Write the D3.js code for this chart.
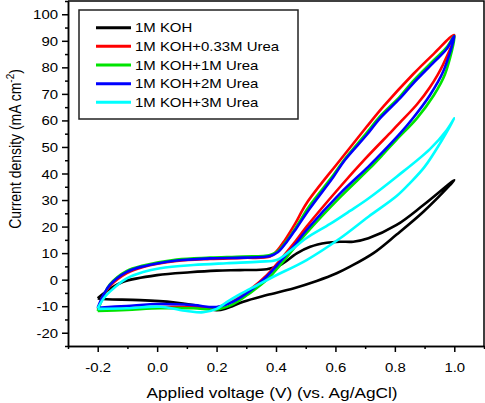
<!DOCTYPE html>
<html><head><meta charset="utf-8">
<script src="https://cdn.jsdelivr.net/npm/d3@7"></script>
<style>
body{margin:0;background:#fff}
svg{display:block}
text{font-family:"Liberation Sans",Arial,sans-serif;fill:#000}
</style>
</head><body>
<svg id="chart" width="485" height="403"></svg>
<script>
// ---------- data ----------
const seriesNames = ["1M KOH","1M KOH+0.33M Urea","1M KOH+1M Urea","1M KOH+2M Urea","1M KOH+3M Urea"];
const seriesColors = ["#000000","#ff0000","#00e400","#0000ff","#00ffff"];

// [voltage (V), current density (mA cm-2)], forward scan then reverse scan
const koh = [[-0.2,-7.0],[-0.159,-3.5],[-0.114,-0.8],[0.0,1.7],[0.111,2.8],[0.2,3.4],[0.279,3.6],[0.369,3.9],[0.414,5.5],[0.47,9.9],[0.515,12.4],[0.571,13.9],[0.616,14.3],[0.66,14.3],[0.711,15.6],[0.806,20.6],[0.896,28.1],[1.0,37.5],
  [0.986,35.7],[0.896,25.6],[0.806,17.0],[0.728,10.0],[0.649,4.9],[0.604,2.4],[0.537,-0.5],[0.458,-3.3],[0.369,-5.8],[0.29,-8.3],[0.234,-10.8],[0.2,-11.5],[0.122,-9.6],[0.054,-8.5],[-0.058,-7.7],[-0.17,-7.4],[-0.2,-7.1]];
const urea033 = [[-0.2,-11.0],[-0.179,-5.8],[-0.159,-2.4],[-0.102,2.5],[-0.047,4.8],[0.066,7.0],[0.178,7.8],[0.29,8.2],[0.38,8.7],[0.403,10.8],[0.43,14.9],[0.464,21.0],[0.503,28.8],[0.616,45.1],[0.705,57.6],[0.761,65.2],[0.862,77.5],[0.93,85.0],[1.0,92.2],
  [0.962,81.0],[0.918,72.5],[0.874,66.0],[0.817,59.2],[0.79,56.0],[0.7,45.5],[0.616,35.0],[0.503,20.0],[0.458,13.4],[0.414,7.4],[0.369,1.7],[0.313,-3.7],[0.256,-8.0],[0.2,-10.5],[0.122,-10.3],[0.01,-10.3],[-0.102,-10.7],[-0.2,-11.0]];
const urea1 = [[-0.2,-11.8],[-0.179,-5.8],[-0.159,-1.8],[-0.102,3.3],[-0.047,5.3],[0.066,7.6],[0.178,8.3],[0.29,8.7],[0.38,9.3],[0.407,10.8],[0.436,14.6],[0.47,20.2],[0.51,27.4],[0.593,39.4],[0.629,45.1],[0.705,55.3],[0.75,61.5],[0.817,69.0],[0.862,74.9],[0.93,82.6],[0.975,87.6],[1.0,91.8],
  [0.969,77.5],[0.93,69.3],[0.874,60.8],[0.806,52.8],[0.761,47.3],[0.716,42.0],[0.616,31.1],[0.503,17.6],[0.458,11.5],[0.414,5.5],[0.369,-0.1],[0.313,-5.0],[0.256,-9.2],[0.2,-11.2],[0.122,-10.8],[0.01,-10.8],[-0.102,-11.4],[-0.2,-11.8]];
const urea2 = [[-0.2,-10.6],[-0.179,-5.4],[-0.159,-2.0],[-0.102,2.9],[-0.047,5.0],[0.066,7.2],[0.178,8.0],[0.29,8.3],[0.38,8.9],[0.407,10.4],[0.436,14.2],[0.47,19.6],[0.515,27.0],[0.593,38.7],[0.632,45.1],[0.705,54.5],[0.75,60.8],[0.817,68.3],[0.862,74.0],[0.93,81.8],[0.975,87.0],[1.0,91.8],
  [0.963,78.5],[0.918,69.5],[0.862,61.0],[0.817,55.0],[0.761,48.3],[0.711,42.6],[0.616,32.5],[0.503,18.7],[0.458,12.4],[0.414,6.8],[0.369,1.2],[0.313,-4.2],[0.256,-8.3],[0.2,-10.3],[0.122,-9.6],[0.01,-9.2],[-0.102,-9.9],[-0.2,-10.6]];
const urea3 = [[-0.2,-10.8],[-0.179,-6.9],[-0.159,-4.5],[-0.102,0.5],[-0.047,2.9],[0.01,4.3],[0.122,5.5],[0.234,6.2],[0.346,6.8],[0.402,7.4],[0.447,10.8],[0.503,15.7],[0.582,21.0],[0.649,25.9],[0.711,30.6],[0.806,38.8],[0.918,49.2],[0.975,56.4],[1.0,60.8],
  [0.95,51.0],[0.9,42.5],[0.85,36.3],[0.806,31.5],[0.711,23.7],[0.616,15.6],[0.503,7.4],[0.391,1.1],[0.335,-2.2],[0.279,-5.5],[0.234,-8.5],[0.2,-11.0],[0.155,-12.3],[0.1,-11.8],[0.01,-10.2],[-0.102,-10.8],[-0.2,-11.0]];
const seriesData = [koh, urea033, urea1, urea2, urea3];

const xTickValues = [-0.2,0.0,0.2,0.4,0.6,0.8,1.0];
const xMinorTicks = [-0.3,-0.1,0.1,0.3,0.5,0.7,0.9,1.1];
const yTickValues = [-20,-10,0,10,20,30,40,50,60,70,80,90,100];
const yMinorTicks = [-25,-15,-5,5,15,25,35,45,55,65,75,85,95,105];

// ---------- drawing ----------
const svg = d3.select("#chart");
const L = 68, R = 484, T = 1, B = 346;
const SX = 1.15;
const x = d3.scaleLinear().domain([-0.3, 1.1]).range([L, R]);
const y = d3.scaleLinear().domain([-25, 105]).range([B, T]);

// frame (top, right)
svg.append("path")
  .attr("d", `M${L},${T}H${R}V${B}`)
  .attr("fill", "none").attr("stroke", "#000").attr("stroke-width", 1.5);

// curves
const line = d3.line().x(d => x(d[0])).y(d => y(d[1])).curve(d3.curveCatmullRom.alpha(0.5));
svg.append("g").selectAll("path").data(seriesData).join("path")
  .attr("d", line)
  .attr("fill", "none")
  .attr("stroke", (d, i) => seriesColors[i])
  .attr("stroke-width", 2.6)
  .attr("stroke-linejoin", "round");

// x axis
const gx = svg.append("g").attr("transform", `translate(0,${B})`);
gx.append("g").call(d3.axisBottom(x).tickValues(xMinorTicks).tickSize(3).tickSizeOuter(0).tickFormat(""));
gx.append("g").call(d3.axisBottom(x).tickValues(xTickValues).tickSize(6).tickSizeOuter(0).tickFormat(d => d.toFixed(1)));
gx.selectAll(".domain").attr("stroke-width", 1.5);
gx.selectAll(".tick line").attr("stroke-width", 1.5);
gx.selectAll(".tick text")
  .attr("y", 26).attr("dy", 0)
  .attr("font-size", 13)
  .attr("font-family", '"Liberation Sans",Arial,sans-serif')
  .attr("transform", `scale(${SX},1)`);

// y axis
const gy = svg.append("g").attr("transform", `translate(${L},0)`);
gy.append("g").call(d3.axisLeft(y).tickValues(yMinorTicks).tickSize(3).tickSizeOuter(0).tickFormat(""));
gy.append("g").call(d3.axisLeft(y).tickValues(yTickValues).tickSize(6).tickSizeOuter(0).tickFormat(d => String(d)));
gy.selectAll(".domain").attr("stroke-width", 1.5);
gy.selectAll(".tick line").attr("stroke-width", 1.5);
gy.selectAll(".tick text")
  .attr("x", -10 / SX).attr("dy", "0.35em")
  .attr("font-size", 13)
  .attr("font-family", '"Liberation Sans",Arial,sans-serif')
  .attr("transform", `scale(${SX},1)`);

// axis titles
svg.append("text")
  .attr("transform", `translate(272,398) scale(${SX},1)`)
  .attr("text-anchor", "middle").attr("font-size", 15)
  .text("Applied voltage (V) (vs. Ag/AgCl)");

const yt = svg.append("text")
  .attr("transform", `translate(21,149) scale(${SX},1) rotate(-90)`)
  .attr("text-anchor", "middle").attr("font-size", 14);
yt.append("tspan").text("Current density (mA cm");
yt.append("tspan").attr("font-size", 10).attr("dy", -6).text("-2");
yt.append("tspan").attr("dy", 6).text(")");

// legend
const lg = svg.append("g");
lg.append("rect").attr("x", 79).attr("y", 10).attr("width", 219).attr("height", 109)
  .attr("fill", "#fff").attr("stroke", "#222").attr("stroke-width", 1.5);
const rows = lg.selectAll("g.row").data(seriesNames).join("g").attr("class", "row")
  .attr("transform", (d, i) => `translate(0,${27.7 + i * 18.65})`);
rows.append("line").attr("x1", 96).attr("x2", 131).attr("y1", 0).attr("y2", 0)
  .attr("stroke", (d, i) => seriesColors[i]).attr("stroke-width", 3);
rows.append("text")
  .attr("transform", `translate(135,4.7) scale(${SX},1)`)
  .attr("font-size", 13).text(d => d);
</script>
</body></html>
